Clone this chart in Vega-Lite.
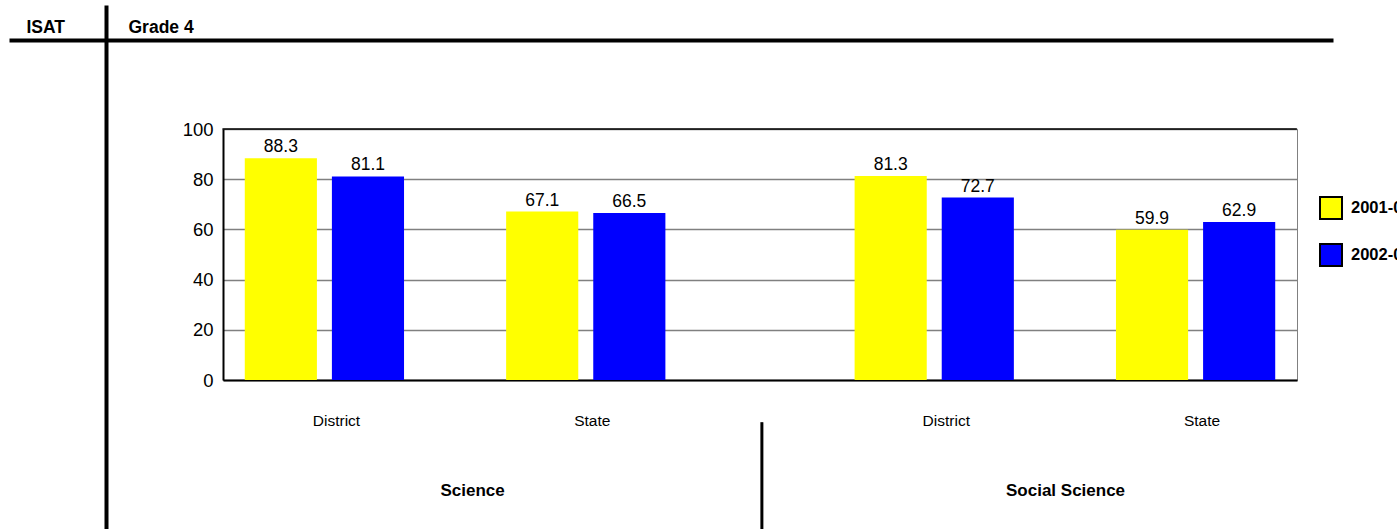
{
  "$schema": "https://vega.github.io/schema/vega-lite/v6.json",
  "width": 1074,
  "height": 251,
  "autosize": {"type": "none"},
  "padding": {"left": 223, "top": 129, "right": 100, "bottom": 149},
  "background": "white",
  "config": {
    "font": "Liberation Sans",
    "view": {"stroke": "#808080", "strokeWidth": 1},
    "axis": {"labelColor": "black", "titleColor": "black"}
  },
  "data": {
    "values": [
      {"subject": "Science", "region": "District", "year": "2001-02", "value": 88.3},
      {"subject": "Science", "region": "District", "year": "2002-03", "value": 81.1},
      {"subject": "Science", "region": "State", "year": "2001-02", "value": 67.1},
      {"subject": "Science", "region": "State", "year": "2002-03", "value": 66.5},
      {"subject": "Social Science", "region": "District", "year": "2001-02", "value": 81.3},
      {"subject": "Social Science", "region": "District", "year": "2002-03", "value": 72.7},
      {"subject": "Social Science", "region": "State", "year": "2001-02", "value": 59.9},
      {"subject": "Social Science", "region": "State", "year": "2002-03", "value": 62.9}
    ]
  },
  "transform": [
    {"calculate": "datum.subject + ' ' + datum.region + ' ' + datum.year", "as": "bar"}
  ],
  "layer": [
    {
      "transform": [{"filter": "datum.bar == 'Science District 2001-02'"}],
      "mark": {"type": "point", "opacity": 0},
      "encoding": {
        "x": {
          "datum": 0, "type": "quantitative",
          "scale": {"domain": [0, 1], "range": [-214, 1110], "nice": false, "zero": false},
          "axis": {
            "orient": "top", "offset": 89, "domainColor": "black", "domainWidth": 4,
            "ticks": false, "labels": false, "grid": false,
            "title": "Grade 4", "titleX": -95, "titleY": -8, "titleAlign": "left",
            "titleBaseline": "alphabetic", "titleAngle": 0, "titleFontSize": 17.5,
            "titleFontWeight": "bold", "titleFont": "Liberation Sans"
          }
        },
        "y": {
          "datum": 0, "type": "quantitative",
          "scale": {"domain": [0, 1], "range": [400, -124], "nice": false, "zero": false},
          "axis": {
            "orient": "left", "offset": 117, "domainColor": "black", "domainWidth": 4,
            "ticks": false, "labels": false, "grid": false,
            "title": "ISAT", "titleX": -80, "titleY": -97, "titleAlign": "left",
            "titleBaseline": "alphabetic", "titleAngle": 0, "titleFontSize": 17.5,
            "titleFontWeight": "bold", "titleFont": "Liberation Sans"
          }
        }
      }
    },
    {
      "encoding": {
        "x": {
          "field": "bar", "type": "nominal",
          "scale": {
            "domain": [
              "Science District 2001-02", "Science District 2002-03", "gap-a",
              "Science State 2001-02", "Science State 2002-03", "gap-b", "gap-c",
              "Social Science District 2001-02", "Social Science District 2002-03", "gap-d",
              "Social Science State 2001-02", "Social Science State 2002-03"
            ],
            "paddingInner": 0.172, "paddingOuter": 0.25
          },
          "axis": {
            "orient": "bottom", "labels": false, "ticks": false, "title": null, "grid": false,
            "domainColor": "black", "domainWidth": 2
          }
        },
        "y": {
          "field": "value", "type": "quantitative",
          "scale": {"domain": [0, 100], "nice": false},
          "axis": {
            "orient": "left", "values": [0, 20, 40, 60, 80, 100], "title": null, "ticks": false,
            "labelFontSize": 18.5, "labelPadding": 10, "domainColor": "black", "domainWidth": 2,
            "grid": true, "gridColor": "#808080", "gridWidth": 1.5
          }
        }
      },
      "layer": [
        {
          "mark": {"type": "bar"},
          "encoding": {
            "color": {
              "field": "year", "type": "nominal",
              "scale": {"domain": ["2001-02", "2002-03"], "range": ["#ffff00", "#0000ff"]},
              "legend": {
                "orient": "none", "legendX": 1096, "legendY": 67, "title": null,
                "padding": 0, "symbolType": "square", "symbolSize": 484,
                "symbolStrokeColor": "black", "symbolStrokeWidth": 2, "symbolOpacity": 1,
                "labelFont": "Liberation Sans", "labelFontWeight": "bold", "labelFontSize": 16.5,
                "labelColor": "black", "labelOffset": 8, "rowPadding": 17
              }
            }
          }
        },
        {
          "mark": {"type": "text", "baseline": "alphabetic", "dy": -6, "fontSize": 17.5, "color": "black"},
          "encoding": {
            "text": {"field": "value", "type": "quantitative", "format": ".1f"}
          }
        },
        {
          "transform": [{"filter": "datum.year == '2001-02'"}],
          "mark": {
            "type": "text", "align": "left", "baseline": "alphabetic", "dx": 68, "dy": 46,
            "fontSize": 15.5, "color": "black"
          },
          "encoding": {
            "x": {"field": "bar", "type": "nominal", "bandPosition": 0},
            "y": {"datum": 0, "type": "quantitative"},
            "text": {"field": "region"}
          }
        },
        {
          "transform": [{"filter": "datum.bar == 'Science District 2001-02'"}],
          "mark": {
            "type": "text", "align": "center", "baseline": "alphabetic", "dx": 17.5, "dy": 116,
            "fontSize": 17, "fontWeight": "bold", "color": "black"
          },
          "encoding": {
            "x": {"datum": "gap-a"},
            "y": {"datum": 0, "type": "quantitative"},
            "text": {"field": "subject"}
          }
        },
        {
          "transform": [{"filter": "datum.bar == 'Social Science District 2001-02'"}],
          "mark": {
            "type": "text", "align": "center", "baseline": "alphabetic", "dx": 0.6, "dy": 116,
            "fontSize": 17, "fontWeight": "bold", "color": "black"
          },
          "encoding": {
            "x": {"datum": "gap-d"},
            "y": {"datum": 0, "type": "quantitative"},
            "text": {"field": "subject"}
          }
        },
        {
          "transform": [{"filter": "datum.bar == 'Science District 2001-02'"}],
          "mark": {"type": "rule", "color": "black", "strokeWidth": 3},
          "encoding": {
            "x": {"datum": "gap-b", "bandPosition": 1.13},
            "y": {"datum": -16.8, "type": "quantitative"},
            "y2": {"datum": -62}
          }
        },
        {
          "transform": [{"filter": "datum.bar == 'Science District 2001-02'"}],
          "mark": {"type": "rule", "color": "black", "strokeWidth": 1.5},
          "encoding": {
            "x": {"datum": "Science District 2001-02", "bandPosition": -0.31},
            "x2": {"datum": "Social Science State 2002-03", "bandPosition": 1.3},
            "y": {"datum": 100, "type": "quantitative"}
          }
        }
      ]
    }
  ],
  "resolve": {
    "scale": {"x": "independent", "y": "independent"},
    "axis": {"x": "independent", "y": "independent"}
  }
}
